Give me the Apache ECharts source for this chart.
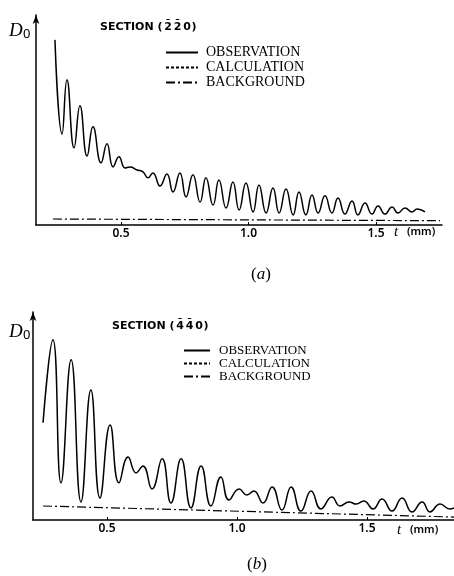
<!DOCTYPE html>
<html><head><meta charset="utf-8">
<script src="https://cdn.jsdelivr.net/npm/echarts@6/dist/echarts.min.js"></script>
<style>html,body{margin:0;padding:0;background:#fff}#c{width:454px;height:576px}</style>
</head><body><div id="c"></div>
<script>
const tickValues = [0.5, 1.0, 1.5];
const seriesNames = ['OBSERVATION', 'CALCULATION', 'BACKGROUND'];
const titleWord = 'SECTION (';
const indicesA = ['2', '2', '0'];
const barsA = [true, true, false];
const indicesB = ['4', '4', '0'];
const barsB = [true, true, false];
const captionA = 'a';
const captionB = 'b';

// panel (a): [t (mm), D0 (arb. units)]
const obsA = [
  [0.241,86.4],[0.269,42.5],[0.288,67.8],[0.316,36.0],[0.339,55.6],[0.367,32.2],[0.390,45.8],[0.422,29.0],
  [0.445,37.9],[0.469,27.1],[0.492,31.8],[0.516,26.6],[0.535,27.1],[0.563,25.7],[0.586,24.8],[0.606,22.0],
  [0.625,24.3],[0.653,18.2],[0.680,23.8],[0.704,15.4],[0.731,24.3],[0.755,13.1],[0.782,23.4],[0.810,10.7],
  [0.833,22.0],[0.861,9.3],[0.884,21.0],[0.912,7.9],[0.939,20.1],[0.963,7.0],[0.990,19.6],[1.018,6.1],
  [1.041,18.7],[1.069,5.6],[1.096,17.3],[1.120,5.6],[1.147,16.8],[1.175,4.7],[1.198,15.4],[1.225,4.7],
  [1.249,14.0],[1.273,5.6],[1.300,13.6],[1.327,5.6],[1.351,12.6],[1.378,5.1],[1.406,11.2],[1.429,4.7],
  [1.457,10.3],[1.484,5.1],[1.508,8.9],[1.535,5.1],[1.563,8.4],[1.586,5.6],[1.614,7.9],[1.641,6.1],
  [1.661,7.5],[1.692,6.1]
];
const calcA = [];
const bgA = [[0.233,2.8],[1.751,2.0]];

// panel (b)
const obsB = [
  [0.254,45.8],[0.292,84.9],[0.323,17.5],[0.362,75.5],[0.400,8.5],[0.438,61.3],[0.473,10.4],[0.512,44.8],
  [0.546,17.5],[0.581,29.7],[0.612,22.2],[0.638,25.5],[0.673,14.6],[0.712,28.8],[0.746,8.0],[0.785,28.8],
  [0.823,5.7],[0.862,25.5],[0.900,6.6],[0.938,20.3],[0.969,9.4],[1.008,14.6],[1.038,11.8],[1.065,13.7],
  [1.100,8.0],[1.135,15.6],[1.173,4.7],[1.208,15.6],[1.246,4.2],[1.285,13.7],[1.323,5.2],[1.365,10.8],
  [1.396,6.6],[1.431,8.5],[1.458,7.5],[1.488,9.0],[1.523,5.2],[1.558,9.9],[1.596,4.2],[1.635,10.4],
  [1.673,3.8],[1.712,8.5],[1.742,3.8],[1.781,7.5],[1.819,5.2],[1.835,5.7]
];
const calcB = [];
const bgB = [[0.254,6.6],[1.835,1.4]];

const chart = echarts.init(document.getElementById('c'), null, {renderer: 'canvas'});

function xAxisCfg(gi, min, max) {
  return {
    gridIndex: gi, type: 'value', min: min, max: max,
    axisLine: {lineStyle: {color: '#000', width: 1.5}},
    axisTick: {customValues: tickValues, inside: true, length: 3, lineStyle: {color: '#000', width: 1}},
    axisLabel: {customValues: tickValues, formatter: v => v.toFixed(1), color: '#000',
      fontSize: 12, fontFamily: 'Noto Sans', fontWeight: 600, margin: 3},
    splitLine: {show: false}
  };
}
function yAxisCfg(gi) {
  return {
    gridIndex: gi, type: 'value', min: 0, max: 98,
    axisLine: {show: true, symbol: ['none', 'arrow'], symbolSize: [5, 9], lineStyle: {color: '#000', width: 1.5}},
    axisTick: {show: false}, axisLabel: {show: false}, splitLine: {show: false}
  };
}
function seriesFor(idx, obs, calc, bg) {
  return [
    {name: seriesNames[0], type: 'line', xAxisIndex: idx, yAxisIndex: idx, data: obs, symbol: 'none',
      smooth: 0.5, lineStyle: {color: '#000', width: 1.5}, itemStyle: {color: '#000'}},
    {name: seriesNames[1], type: 'line', xAxisIndex: idx, yAxisIndex: idx, data: calc, symbol: 'none',
      smooth: 0.5, lineStyle: {color: '#000', width: 1.2, type: [3, 2]}, itemStyle: {color: '#000'}},
    {name: seriesNames[2], type: 'line', xAxisIndex: idx, yAxisIndex: idx, data: bg, symbol: 'none',
      lineStyle: {color: '#000', width: 1.2, type: [9, 3, 2, 3]}, itemStyle: {color: '#000'}}
  ];
}
function legendCfg(left, top, w, h, fs, pad) {
  return {
    left: left, top: top, orient: 'vertical', itemWidth: w, itemHeight: h, itemGap: 0,
    selectedMode: false, data: seriesNames,
    itemStyle: {opacity: 0},
    textStyle: {fontFamily: 'Liberation Serif', fontSize: fs, lineHeight: h, color: '#000', padding: [0, 0, 0, pad]}
  };
}
const serif = '"Liberation Serif", "DejaVu Serif", serif';
const sans = '"Noto Sans", "DejaVu Sans", sans-serif';
const titleFont = 'bold 11px "DejaVu Sans"';
function txt(x, y, text, font, align, rich) {
  const st = {text: text, font: font, fill: '#000', align: align || 'left', verticalAlign: 'middle'};
  if (rich) st.rich = rich;
  return {type: 'text', x: x, y: y, silent: true, style: st};
}
function sectionTitle(x, y, idx, bars) {
  const els = [txt(x, y, titleWord, titleFont)];
  const d0 = x + 68;
  idx.forEach((d, i) => {
    const cx = d0 + i * 9.5;
    els.push(txt(cx, y, d, titleFont, 'center'));
    if (bars[i]) els.push(txt(cx, y - 3, '\u00AF', titleFont, 'center'));
  });
  els.push(txt(d0 + 2 * 9.5 + 4.5, y, ')', titleFont));
  return els;
}
const capRich = {i: {font: 'italic 17px ' + serif, fill: '#000'}};

chart.setOption({
  animation: false,
  backgroundColor: '#fff',
  grid: [
    {left: 36, right: 12, top: 15, bottom: 351},
    {left: 33, right: 0, top: 312, bottom: 56}
  ],
  xAxis: [xAxisCfg(0, 0.16667, 1.7588), xAxisCfg(1, 0.2154, 1.8346)],
  yAxis: [yAxisCfg(0), yAxisCfg(1)],
  legend: [legendCfg(160, 40, 32, 15, 14, 3), legendCfg(178, 339, 26, 13, 13, 4)],
  graphic: [
    txt(9, 31, 'D', 'italic 19px ' + serif),
    txt(23, 34, '0', '13px ' + sans),
    txt(9, 332, 'D', 'italic 19px ' + serif),
    txt(23, 335, '0', '13px ' + sans),
    ...sectionTitle(100, 27, indicesA, barsA),
    ...sectionTitle(112, 326, indicesB, barsB),
    txt(394, 232, 't', 'italic 15px ' + serif),
    txt(407, 232, '(mm)', '600 11px ' + sans),
    txt(397, 530, 't', 'italic 15px ' + serif),
    txt(410, 530, '(mm)', '600 11px ' + sans),
    txt(261, 275, '({i|' + captionA + '})', '17px ' + serif, 'center', capRich),
    txt(257, 565, '({i|' + captionB + '})', '17px ' + serif, 'center', capRich)
  ],
  series: [].concat(seriesFor(0, obsA, calcA, bgA), seriesFor(1, obsB, calcB, bgB))
});
</script>
</body></html>
